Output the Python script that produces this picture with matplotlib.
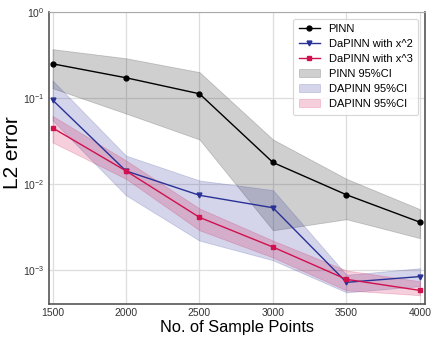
import numpy as np
import matplotlib
matplotlib.use("Agg")
import matplotlib.pyplot as plt

plt.rcParams['font.family'] = ['Liberation Sans', 'DejaVu Sans']

# sample sizes
n_points = [1500, 2000, 2500, 3000, 3500, 4000]

# mean L2 errors
pinn = [0.25, 0.172, 0.112, 0.0178, 0.0075, 0.0036]
dapinn_x2 = [0.095, 0.0142, 0.0074, 0.0053, 0.00072, 0.00084]
dapinn_x3 = [0.045, 0.0142, 0.0041, 0.00185, 0.00078, 0.00058]

# 95% confidence bounds
pinn_lo = [0.13, 0.066, 0.033, 0.0029, 0.0039, 0.00235]
pinn_hi = [0.37, 0.29, 0.2, 0.033, 0.0115, 0.0051]
x2_lo = [0.055, 0.0074, 0.0022, 0.0013, 0.00055, 0.00065]
x2_hi = [0.16, 0.0214, 0.011, 0.0085, 0.00088, 0.00105]
x3_lo = [0.0305, 0.0115, 0.0029, 0.0014, 0.00058, 0.00051]
x3_hi = [0.062, 0.0188, 0.0052, 0.0022, 0.00099, 0.00074]

blue = '#2a3196'
red = '#d1104e'

fig = plt.figure(figsize=(4.36, 3.39), dpi=100)
ax = fig.add_axes([0.112, 0.1024, 0.862, 0.8622])

ax.plot(n_points, pinn, color='black', marker='o', ms=3.5, lw=1, label='PINN')
ax.plot(n_points, dapinn_x2, color=blue, marker='v', ms=3.5, lw=1, label='DaPINN with x^2')
ax.plot(n_points, dapinn_x3, color=red, marker='s', ms=3.5, lw=1, label='DaPINN with x^3')
ax.fill_between(n_points, pinn_lo, pinn_hi, color='#404040', alpha=0.25, lw=0.6, label='PINN 95%CI')
ax.fill_between(n_points, x2_lo, x2_hi, color=blue, alpha=0.2, lw=0.6, label='DAPINN 95%CI')
ax.fill_between(n_points, x3_lo, x3_hi, color=red, alpha=0.2, lw=0.6, label='DAPINN 95%CI')

ax.set_yscale('log')
ax.set_ylim(4e-4, 1)
ax.set_xlim(1475, 4032)
ax.set_xticks(n_points)
ax.set_yticks([1e-3, 1e-2, 1e-1, 1e0])
ax.minorticks_off()
ax.tick_params(axis='both', labelsize=7.5, length=0, pad=3, colors='#333333')
ax.grid(True, color='#dddddd', lw=0.9)
ax.set_axisbelow(True)

ax.set_xlabel('No. of Sample Points', fontsize=11.8, labelpad=1)
ax.set_ylabel('L2 error', fontsize=15)
ax.yaxis.set_label_coords(-0.071, 0.52)

for s in ['left', 'bottom', 'right']:
    ax.spines[s].set_color('#555555')
    ax.spines[s].set_linewidth(1.2)
ax.spines['top'].set_color('#aaaaaa')

leg = ax.legend(loc='upper right', fontsize=8, frameon=True, fancybox=True,
                edgecolor='#cccccc', borderpad=0.5, labelspacing=0.45,
                handlelength=1.9, borderaxespad=0.6)
leg.get_frame().set_linewidth(0.8)

fig.savefig('out.png', dpi=100)
